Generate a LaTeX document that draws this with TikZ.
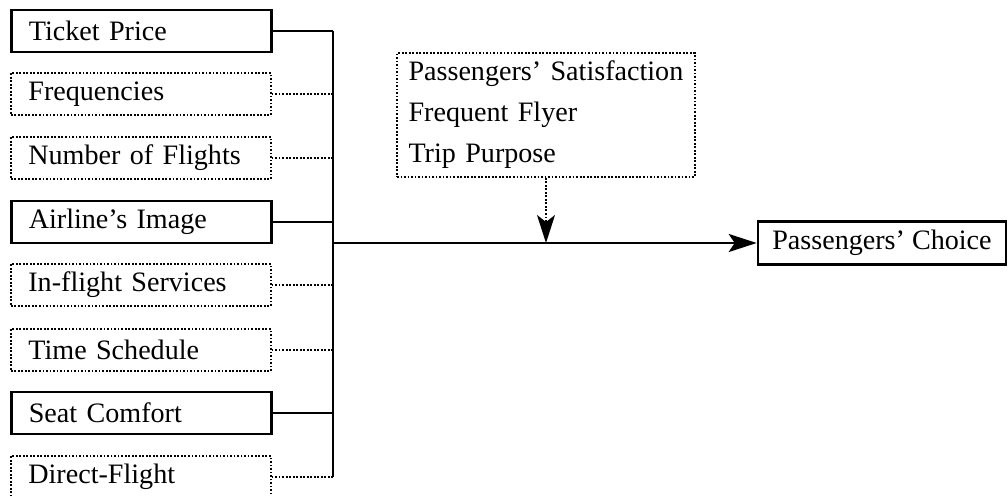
\documentclass[tikz,border=0pt]{standalone}
\usepackage{fontspec}
\setmainfont{Liberation Serif}
\usepackage{tikz}
\usetikzlibrary{arrows.meta,positioning,calc}

\begin{document}
\begin{tikzpicture}[x=0.02cm, y=-0.02cm,
    factor/.style={rectangle, draw, line width=1.5pt, anchor=west, minimum width=5.2cm, minimum height=0.84cm, text width=4.5cm, inner xsep=0.35cm, align=left, font=\fontsize{16}{18}\selectfont},
    weak/.style={line width=1pt, densely dotted},
    link/.style={line width=1.5pt},
    bigtip/.style={-{Stealth[length=0.56cm, width=0.36cm, inset=0.12cm]}}
]
\useasboundingbox (0,0) rectangle (1008,496);

\node[factor] (ticket) at (10, 31) {Ticket Price};
\node[factor, weak] (freq) at (10, 94) {Frequencies};
\node[factor, weak] (flights) at (10, 158) {Number of Flights};
\node[factor] (image) at (10, 222) {Airline's Image};
\node[factor, weak] (service) at (10, 285) {In-flight Services};
\node[factor, weak] (schedule) at (10, 350) {Time Schedule};
\node[factor] (seat) at (10, 413) {Seat Comfort};
\node[factor, weak] (direct) at (10, 477) {Direct-Flight};

\node[rectangle, draw, weak, minimum width=5.96cm, minimum height=2.48cm, text width=5.5cm, inner xsep=0.23cm, align=left, font=\fontsize{16}{23.3}\selectfont] (moderator) at (546, 115) {Passengers' Satisfaction\\Frequent Flyer\\Trip Purpose};
\node[rectangle, draw, line width=1.5pt, minimum width=4.96cm, minimum height=0.86cm, font=\fontsize{16}{18}\selectfont] (choice) at (882, 243) {Passengers' Choice};

% bus and links
\coordinate (top) at (333, 31);
\coordinate (bottom) at (333, 477);
\coordinate (hub) at (333, 243);
\draw[link] (top) -- (bottom);
\foreach \f in {ticket, image, seat}
    \draw[link] (\f.east) -- (\f.east -| top);
\foreach \f in {freq, flights, service, schedule, direct}
    \draw[weak] (\f.east) -- (\f.east -| top);

\draw[link, bigtip] (hub) -- (choice.west);
\draw[weak, -{Stealth[length=0.56cm, width=0.36cm, inset=0.14cm]}] (moderator.south) -- (moderator.south |- hub);

\end{tikzpicture}
\end{document}
